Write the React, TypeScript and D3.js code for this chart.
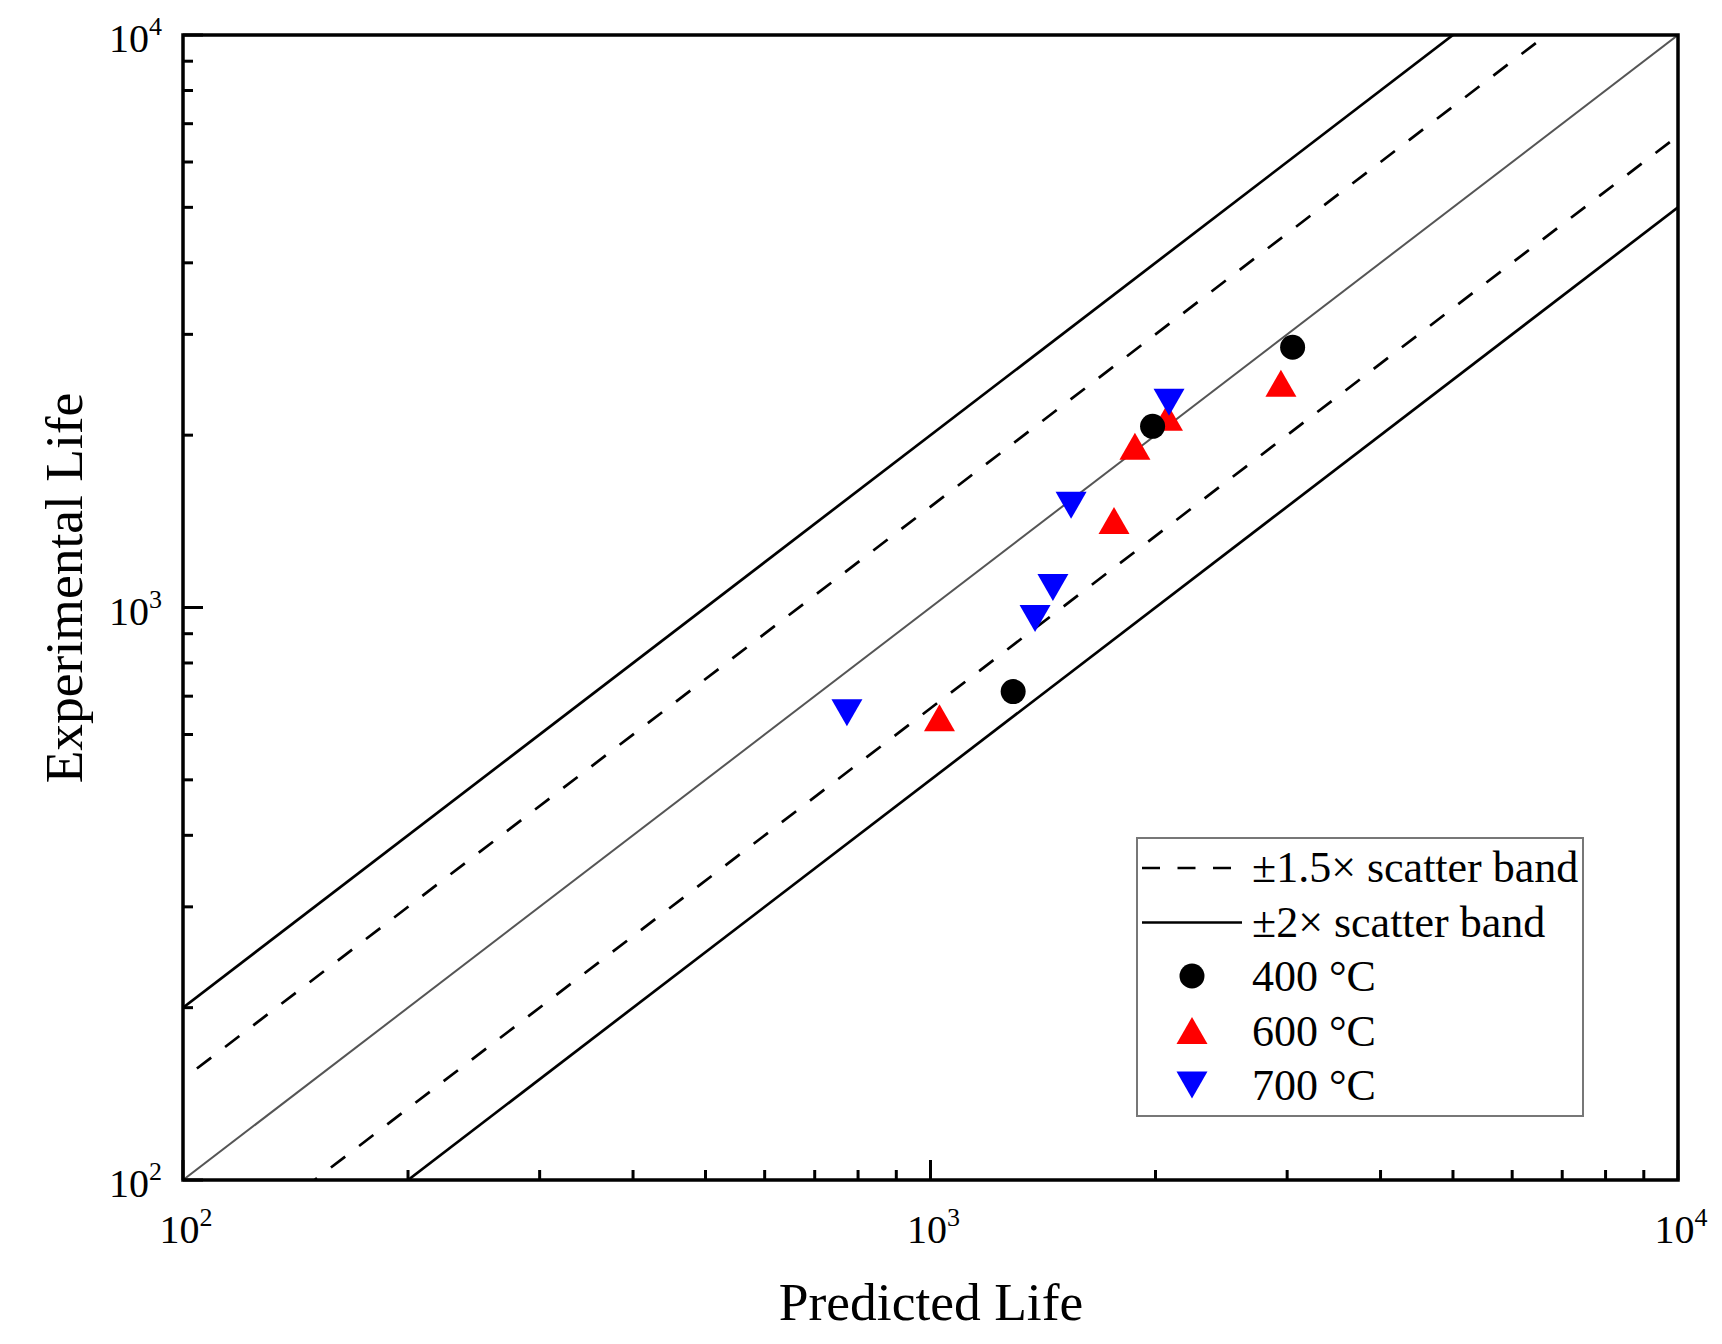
import React from 'react';
import * as d3 from 'd3';

// ---- data ----
const seriesNames = ['400 °C', '600 °C', '700 °C'];
const predicted400 = [3051, 1982, 1290];
const experimental400 = [2848, 2072, 713];
const predicted600 = [2943, 2075, 1877, 1760, 1028];
const experimental600 = [2464, 2149, 1912, 1419, 642];
const predicted700 = [2085, 1542, 1458, 1380, 773];
const experimental700 = [2282, 1508, 1084, 957, 655];
const axisDomain = [100, 10000];
const majorTicks = [100, 1000, 10000];
const majorExponents = ['2', '3', '4'];
const bandFactors = [1.5, 2];
const bandLabels = ['±1.5× scatter band', '±2× scatter band'];

const W = 1722;
const H = 1344;
const L = 183, R = 1678, T = 35, B = 1180;
const FONT = '"Liberation Serif", "Times New Roman", serif';
const DASH = '18 17.5';

const x = d3.scaleLog().domain(axisDomain).range([L, R]);
const y = d3.scaleLog().domain(axisDomain).range([B, T]);

const minorTicks: number[] = [];
for (let d = 100; d < 10000; d *= 10) {
  for (let k = 2; k <= 9; k++) minorTicks.push(d * k);
}

const line = d3.line<[number, number]>().x(d => x(d[0])).y(d => y(d[1]));

function triPath(cx: number, cy: number, w: number, h: number, up: boolean) {
  const s = up ? 1 : -1;
  return `M${cx},${cy - s * h / 2}L${cx + w / 2},${cy + s * h / 2}L${cx - w / 2},${cy + s * h / 2}Z`;
}

function Marker({ kind, cx, cy }: { kind: number; cx: number; cy: number }) {
  if (kind === 0) return <circle cx={cx} cy={cy} r={12.5} fill="#000" />;
  if (kind === 1) return <path d={triPath(cx, cy, 31, 27, true)} fill="#ff0000" />;
  return <path d={triPath(cx, cy, 31, 27, false)} fill="#0000ff" />;
}

export default function App() {
  const series = [
    { kind: 0, px: predicted400, ey: experimental400 },
    { kind: 1, px: predicted600, ey: experimental600 },
    { kind: 2, px: predicted700, ey: experimental700 },
  ];
  const drawOrder = [1, 0, 2];

  const bandLines: { d: string; dashed: boolean; off: number }[] = [];
  bandFactors.forEach(f => {
    const dashed = f === 1.5;
    bandLines.push({ d: line([[axisDomain[0], axisDomain[0] * f], [axisDomain[1] / f, axisDomain[1]]])!, dashed, off: 18 });
    bandLines.push({ d: line([[axisDomain[0] * f, axisDomain[0]], [axisDomain[1], axisDomain[1] / f]])!, dashed, off: 15 });
  });

  const legTop = 838;
  const rowH = 54.5;
  const legRows = [...bandLabels, ...seriesNames];

  return (
    <svg width={W} height={H} style={{ position: 'absolute', left: 0, top: 0, background: '#fff' }} fontFamily={FONT}>
      <rect x={0} y={0} width={W} height={H} fill="#fff" />
      <defs>
        <clipPath id="plotclip">
          <rect x={L} y={T} width={R - L} height={B - T} />
        </clipPath>
      </defs>
      <g clipPath="url(#plotclip)">
        <path d={line([[axisDomain[0], axisDomain[0]], [axisDomain[1], axisDomain[1]]])!} stroke="#555" strokeWidth={2} fill="none" />
        {bandLines.map((b, i) => (
          <path key={i} d={b.d} stroke="#000" strokeWidth={2.7} fill="none"
            strokeDasharray={b.dashed ? DASH : undefined} strokeDashoffset={b.dashed ? b.off : undefined} />
        ))}
        {drawOrder.map(si => {
          const s = series[si];
          return s.px.map((p, i) => <Marker key={`${si}-${i}`} kind={s.kind} cx={x(p)} cy={y(s.ey[i])} />);
        })}
      </g>

      {/* ticks */}
      {majorTicks.map((t, i) => (
        <g key={`mt${i}`}>
          <line x1={x(t)} x2={x(t)} y1={B} y2={B - 20} stroke="#000" strokeWidth={3} />
          <line x1={L} x2={L + 20} y1={y(t)} y2={y(t)} stroke="#000" strokeWidth={3} />
        </g>
      ))}
      {minorTicks.map((t, i) => (
        <g key={`mn${i}`}>
          <line x1={x(t)} x2={x(t)} y1={B} y2={B - 10} stroke="#000" strokeWidth={3} />
          <line x1={L} x2={L + 10} y1={y(t)} y2={y(t)} stroke="#000" strokeWidth={3} />
        </g>
      ))}
      <rect x={L} y={T} width={R - L} height={B - T} fill="none" stroke="#000" strokeWidth={3.5} />

      {/* tick labels */}
      {majorTicks.map((t, i) => (
        <text key={`xl${i}`} x={x(t) + 3} y={B + 63} textAnchor="middle" fontSize={40} fill="#000">
          10<tspan fontSize={26} dy={-17}>{majorExponents[i]}</tspan>
        </text>
      ))}
      {majorTicks.map((t, i) => (
        <text key={`yl${i}`} x={162} y={y(t) + 17} textAnchor="end" fontSize={40} fill="#000">
          10<tspan fontSize={26} dy={-17}>{majorExponents[i]}</tspan>
        </text>
      ))}

      {/* axis titles */}
      <text x={931} y={1320} textAnchor="middle" fontSize={53.5} fill="#000">Predicted Life</text>
      <text transform={`translate(82,588) rotate(-90)`} textAnchor="middle" fontSize={53.5} fill="#000">Experimental Life</text>

      {/* legend */}
      <rect x={1137} y={legTop} width={446} height={278} fill="#fff" stroke="#777" strokeWidth={2} />
      {legRows.map((label, i) => {
        const base = 882 + i * rowH;
        const cy = base - 14;
        return (
          <g key={`lg${i}`}>
            {i === 0 && <line x1={1142} x2={1242} y1={cy} y2={cy} stroke="#000" strokeWidth={2.7} strokeDasharray={DASH} />}
            {i === 1 && <line x1={1142} x2={1242} y1={cy} y2={cy} stroke="#000" strokeWidth={2.7} />}
            {i >= 2 && <Marker kind={i - 2} cx={1192} cy={cy - 1} />}
            <text x={1252} y={base} fontSize={44} fill="#000">{label}</text>
          </g>
        );
      })}
    </svg>
  );
}
